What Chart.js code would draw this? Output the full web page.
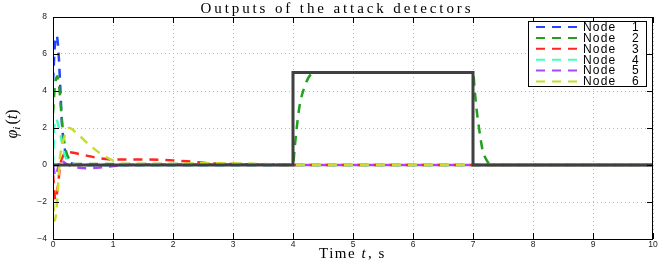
<!DOCTYPE html>
<html>
<head>
<meta charset="utf-8">
<script src="https://cdn.jsdelivr.net/npm/chart.js@4.4.1/dist/chart.umd.min.js"></script>
<style>
  html, body { margin: 0; padding: 0; background: #fff; }
  canvas { display: block; }
</style>
</head>
<body>
<canvas id="chart" width="664" height="262"></canvas>
<script>
// --- data ---
const xTicks = [0, 1, 2, 3, 4, 5, 6, 7, 8, 9, 10];
const yTicks = [-4, -2, 0, 2, 4, 6, 8];
const nodeLabels = ['Node 1', 'Node 2', 'Node 3', 'Node 4', 'Node 5', 'Node 6'];
const nodeColors = ['#2444ff', '#22a01e', '#ff2424', '#44ffbb', '#a648ff', '#c8dc2a'];

// attack signal (step)
const stepT = [0, 4, 4, 7, 7, 10];
const stepY = [0, 0, 5, 5, 0, 0];

const n1t = [0, 0.03, 0.06, 0.09, 0.12, 0.15, 0.2, 0.25, 0.35, 0.5, 10];
const n1y = [4.5, 6.4, 7.0, 6.2, 4.3, 2.2, 0.8, 0.3, 0.05, 0, 0];

const n2t = [0, 0.03, 0.07, 0.1, 0.13, 0.16, 0.2, 0.27, 0.35, 0.6, 3.0, 3.9, 4.0, 4.03, 4.1, 4.2, 4.3, 4.4, 7.0, 7.03, 7.06, 7.1, 7.16, 7.22, 7.3, 10];
const n2y = [2.8, 4.2, 4.8, 4.3, 3.2, 2.0, 1.0, 0.3, 0.05, 0.05, 0.05, 0.02, 0, 1.0, 3.0, 4.3, 4.9, 5.0, 5.0, 4.0, 3.0, 2.0, 0.8, 0.3, 0, 0];

const n3t = [0, 0.04, 0.08, 0.12, 0.17, 0.23, 0.5, 0.8, 1.0, 1.5, 2.0, 2.3, 2.6, 3.0, 3.5, 4.0, 10];
const n3y = [-0.5, -1.9, -1.2, 0, 0.5, 0.7, 0.55, 0.35, 0.3, 0.3, 0.25, 0.18, 0.1, 0.05, 0.02, 0, 0];

const n4t = [0, 0.02, 0.05, 0.1, 0.15, 0.2, 0.3, 0.5, 10];
const n4y = [0, 2.0, 2.5, 2.0, 1.2, 0.5, 0.1, 0, 0];

const n5t = [0, 0.04, 0.08, 0.12, 0.2, 0.35, 0.6, 0.9, 1.2, 2.0, 3.0, 4.0, 10];
const n5y = [0, -0.6, -0.2, 0.3, 0.1, -0.1, -0.17, -0.1, 0, 0.03, 0.03, 0, 0];

const n6t = [0, 0.03, 0.06, 0.09, 0.12, 0.18, 0.27, 0.4, 0.6, 0.8, 1.0, 1.15, 2.0, 2.5, 3.0, 3.5, 4.0, 10];
const n6y = [-2.0, -3.0, -2.3, -0.8, 0.5, 1.4, 2.0, 1.7, 1.1, 0.6, 0.25, 0.05, 0.05, 0.1, 0.08, 0.05, 0, 0];

const nodeT = [n1t, n2t, n3t, n4t, n5t, n6t];
const nodeY = [n1y, n2y, n3y, n4y, n5y, n6y];

const toPts = (ts, ys) => ts.map((t, i) => ({ x: t, y: ys[i] }));

const datasets = [{
  label: '',
  data: toPts(stepT, stepY),
  borderColor: '#404040',
  borderWidth: 3,
  pointRadius: 0,
  tension: 0,
  order: 0
}];
nodeLabels.forEach((lbl, i) => {
  datasets.push({
    label: lbl,
    data: toPts(nodeT[i], nodeY[i]),
    borderColor: nodeColors[i],
    borderWidth: 2.5,
    borderDash: [9, 7],
    pointRadius: 0,
    cubicInterpolationMode: 'monotone',
    order: 6 - i
  });
});

const SERIF = '"Liberation Serif", "DejaVu Serif", serif';
const SANS = '"Liberation Sans", Arial, sans-serif';

// ticks, box, titles, legend
const decor = {
  id: 'decor',
  afterDatasetsDraw(chart) {
    const { ctx, chartArea: a, scales: { x, y } } = chart;
    ctx.save();
    // box
    ctx.strokeStyle = '#000';
    ctx.lineWidth = 1;
    ctx.setLineDash([]);
    ctx.strokeRect(a.left + 0.5, a.top + 0.5, a.right - a.left - 1, a.bottom - a.top);
    // inward ticks
    const tl = 6;
    ctx.beginPath();
    xTicks.forEach(v => {
      const px = Math.round(x.getPixelForValue(v)) + 0.5;
      ctx.moveTo(px, a.bottom); ctx.lineTo(px, a.bottom - tl);
      ctx.moveTo(px, a.top); ctx.lineTo(px, a.top + tl);
    });
    yTicks.forEach(v => {
      const py = Math.round(y.getPixelForValue(v)) + 0.5;
      ctx.moveTo(a.left, py); ctx.lineTo(a.left + tl, py);
      ctx.moveTo(a.right, py); ctx.lineTo(a.right - tl, py);
    });
    ctx.stroke();

    // title
    ctx.fillStyle = '#000';
    ctx.font = '15px ' + SERIF;
    const title = 'Outputs of the attack detectors';
    const w0 = ctx.measureText(title).width;
    ctx.letterSpacing = Math.max(0, (273 - w0) / title.length).toFixed(2) + 'px';
    ctx.textAlign = 'center';
    ctx.textBaseline = 'alphabetic';
    ctx.fillText(title, 337, 13);
    ctx.letterSpacing = '0px';

    // x label: Time t, s
    ctx.textAlign = 'left';
    ctx.letterSpacing = '1.5px';
    const p1 = 'Time ', p3 = ', s';
    ctx.font = 'italic 15px ' + SERIF;
    const wt = ctx.measureText('t').width;
    ctx.font = '15px ' + SERIF;
    const w1 = ctx.measureText(p1).width, w3 = ctx.measureText(p3).width;
    let xx = 352 - (w1 + wt + w3) / 2;
    const by = 258;
    ctx.fillText(p1, xx, by); xx += w1;
    ctx.font = 'italic 15px ' + SERIF;
    ctx.fillText('t', xx, by); xx += wt + 1;
    ctx.font = '15px ' + SERIF;
    ctx.fillText(p3, xx, by);
    ctx.letterSpacing = '0px';

    // y label: phi_i(t)
    ctx.save();
    ctx.translate(17, 124);
    ctx.rotate(-Math.PI / 2);
    ctx.font = 'italic 16px ' + SERIF;
    const wp = ctx.measureText('\u03c6').width;
    ctx.font = 'italic 11px ' + SERIF;
    const wi = ctx.measureText('i').width;
    ctx.font = '16px ' + SERIF;
    const wpar = ctx.measureText('(').width;
    ctx.font = 'italic 16px ' + SERIF;
    const wtt = ctx.measureText('t').width;
    const total = wp + wi + 2 + wpar * 2 + wtt;
    let yx = -total / 2;
    ctx.font = 'italic 16px ' + SERIF;
    ctx.fillText('\u03c6', yx, 0); yx += wp;
    ctx.font = 'italic 11px ' + SERIF;
    ctx.fillText('i', yx, 3); yx += wi + 2;
    ctx.font = '16px ' + SERIF;
    ctx.fillText('(', yx, 0); yx += wpar;
    ctx.font = 'italic 16px ' + SERIF;
    ctx.fillText('t', yx, 0); yx += wtt;
    ctx.font = '16px ' + SERIF;
    ctx.fillText(')', yx, 0);
    ctx.restore();

    // legend
    const lx = 528, ly = 21, lw = 118, lh = 65;
    ctx.fillStyle = '#fff';
    ctx.fillRect(lx, ly, lw, lh);
    ctx.strokeStyle = '#000';
    ctx.lineWidth = 1;
    ctx.strokeRect(lx + 0.5, ly + 0.5, lw, lh);
    ctx.font = '12px ' + SANS;
    ctx.textBaseline = 'middle';
    chart.data.datasets.filter(d => d.label).forEach((d, i) => {
      const ry = ly + 6 + i * 10.9;
      ctx.strokeStyle = d.borderColor;
      ctx.lineWidth = 2;
      ctx.setLineDash([9, 7]);
      ctx.beginPath();
      ctx.moveTo(536, ry); ctx.lineTo(577, ry);
      ctx.stroke();
      ctx.setLineDash([]);
      ctx.fillStyle = '#000';
      const parts = d.label.split(' ');
      ctx.letterSpacing = '1.2px';
      ctx.fillText(parts[0], 583, ry + 0.5);
      ctx.letterSpacing = '0px';
      ctx.fillText(parts[1], 632, ry + 0.5);
    });
    ctx.restore();
  }
};

new Chart(document.getElementById('chart'), {
  type: 'line',
  data: { datasets },
  plugins: [decor],
  options: {
    responsive: false,
    animation: false,
    events: [],
    layout: { padding: { left: 0, right: 11, top: 17, bottom: 0 } },
    plugins: { legend: { display: false }, tooltip: { enabled: false }, title: { display: false } },
    scales: {
      x: {
        type: 'linear', min: 0, max: 10,
        afterBuildTicks: s => { s.ticks = xTicks.map(v => ({ value: v })); },
        afterFit: s => { s.height = 23; },
        grid: { color: '#b8b8b8', lineWidth: 1, drawTicks: false },
        border: { display: false, dash: [1, 3] },
        ticks: { padding: 1, color: '#222', font: { family: SANS, size: 8.5 }, maxRotation: 0 }
      },
      y: {
        min: -4, max: 8,
        afterBuildTicks: s => { s.ticks = yTicks.map(v => ({ value: v })); },
        afterFit: s => { s.width = 53; },
        grid: { color: '#b8b8b8', lineWidth: 1, drawTicks: false },
        border: { display: false, dash: [1, 3] },
        ticks: {
          padding: 6, color: '#222', font: { family: SANS, size: 8.5 },
          callback: v => String(v).replace('-', '\u2212')
        }
      }
    }
  }
});
</script>
</body>
</html>
